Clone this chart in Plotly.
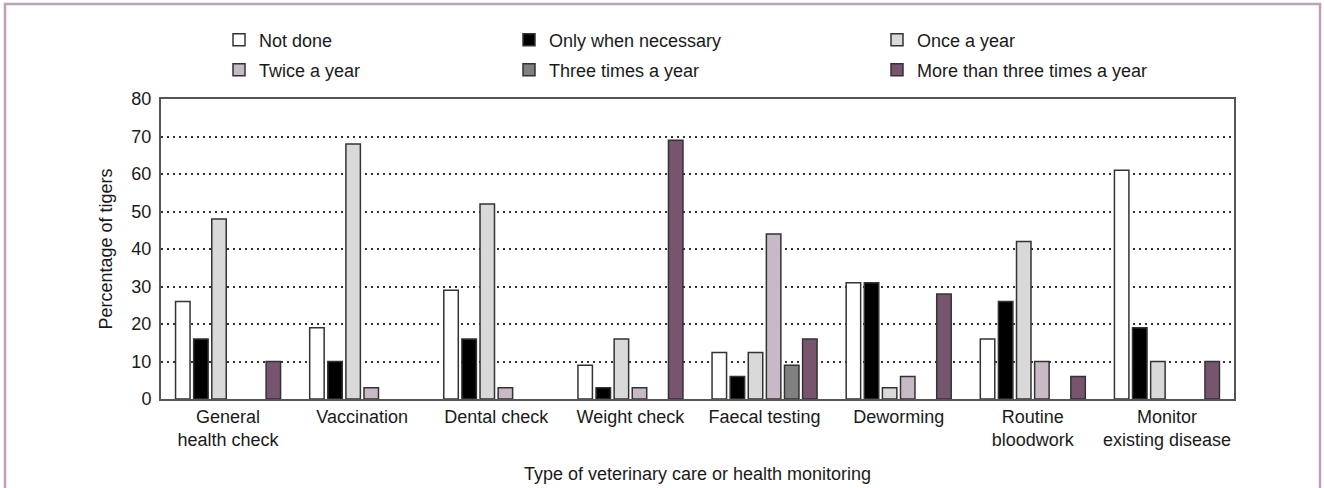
import plotly.graph_objects as go

categories = ["General<br>health check", "Vaccination", "Dental check", "Weight check",
              "Faecal testing", "Deworming", "Routine<br>bloodwork", "Monitor<br>existing disease"]

series_names = ["Not done", "Only when necessary", "Once a year",
                "Twice a year", "Three times a year", "More than three times a year"]

# None = no bar drawn in the reference
not_done = [26, 19, 29, 9, 12.4, 31, 16, 61]
only_when_necessary = [16, 10, 16, 3, 6, 31, 26, 19]
once_a_year = [48, 68, 52, 16, 12.4, 3, 42, 10]
twice_a_year = [None, 3, 3, 3, 44, 6, 10, None]
three_times_a_year = [None, None, None, None, 9, None, None, None]
more_than_three = [10, None, None, 69, 16, 28, 6, 10]

series_values = [not_done, only_when_necessary, once_a_year,
                 twice_a_year, three_times_a_year, more_than_three]
colors = ["#ffffff", "#000000", "#d9d9d9", "#c8b9c7", "#808080", "#77556f"]

y_ticks = [0, 10, 20, 30, 40, 50, 60, 70, 80]

FONT = "Liberation Sans, Arial, Helvetica, sans-serif"
TXT = "#1a1a1a"

fig = go.Figure()
legend_ids = ["legend", "legend2", "legend3", "legend4", "legend5", "legend6"]
for name, vals, col, lg in zip(series_names, series_values, colors, legend_ids):
    fig.add_trace(go.Bar(
        x=categories, y=vals, name=name, legend=lg,
        marker=dict(color=col, line=dict(color="#333333", width=1.5)),
    ))

# plot area in pixels: x 161..1234, y 99..399
L, R, T, B = 161, 1234, 99, 399
W, H = R - L, B - T

def px_x(p):
    return (p - L) / W

def px_y(p):
    return (B - p) / H

leg_cols = [219, 509, 877]
leg_rows = [40, 70]
positions = [(leg_cols[0], leg_rows[0]), (leg_cols[1], leg_rows[0]), (leg_cols[2], leg_rows[0]),
             (leg_cols[0], leg_rows[1]), (leg_cols[1], leg_rows[1]), (leg_cols[2], leg_rows[1])]

layout_legends = {}
for lg, (lx, ly) in zip(legend_ids, positions):
    layout_legends[lg] = dict(
        x=px_x(lx), y=px_y(ly), xanchor="left", yanchor="middle",
        orientation="v", bgcolor="rgba(0,0,0,0)", borderwidth=0,
        font=dict(family=FONT, size=18, color=TXT),
    )

fig.update_layout(
    width=1324, height=488,
    margin=dict(l=L, r=1324 - R, t=T, b=488 - B, autoexpand=False),
    paper_bgcolor="white", plot_bgcolor="white",
    font=dict(family=FONT, size=18, color=TXT),
    barmode="group", bargap=0.19, bargroupgap=0.2,
    showlegend=True,
    **layout_legends,
)

fig.update_xaxes(
    showline=True, mirror=True, linecolor="#555555", linewidth=2,
    showgrid=False, ticks="", tickfont=dict(size=18),
    title=dict(text="Type of veterinary care or health monitoring", standoff=18,
               font=dict(size=18)),
)
fig.update_yaxes(
    range=[0, 80], tickvals=y_ticks, ticktext=[str(v) for v in y_ticks],
    showline=True, mirror=True, linecolor="#555555", linewidth=2,
    showgrid=True, gridcolor="#333333", gridwidth=1.5, griddash="2px,4px",
    zeroline=False, ticks="", tickfont=dict(size=18), ticklabelstandoff=4,
    title=dict(text="Percentage of tigers", standoff=14, font=dict(size=18)),
)

# outer mauve frame
fig.add_shape(type="rect", xref="paper", yref="paper",
              x0=px_x(5), x1=px_x(1320), y0=px_y(500), y1=px_y(4),
              line=dict(color="#bca3ba", width=2.5), fillcolor="rgba(0,0,0,0)",
              layer="above")

fig.write_html("out.html",
               config={"displayModeBar": False},
               post_script="document.body.style.margin='0';document.body.style.overflow='hidden';")
